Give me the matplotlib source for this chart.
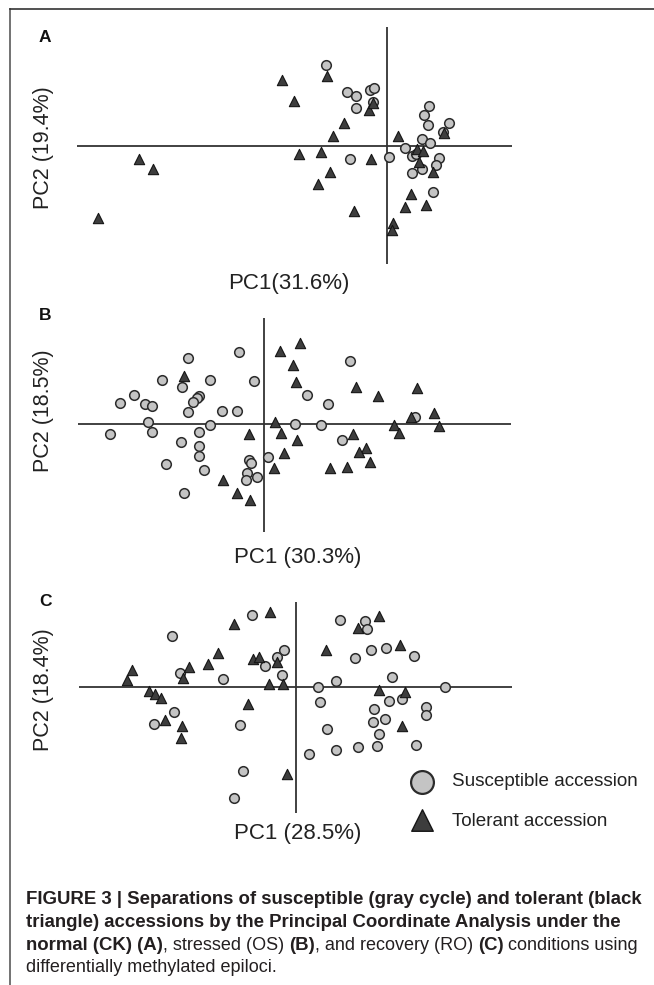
import matplotlib
matplotlib.use('Agg')
import matplotlib.pyplot as plt
from matplotlib import font_manager

plt.rcParams['font.family'] = ['Liberation Sans', 'DejaVu Sans']

W, H = 654, 985

# ---- data (PCoA scores, scaled units) ----
# A: normal (CK)
a_sus_x = [-0.61, -0.40, -0.31, -0.17, -0.13, -0.31, -0.14, 0.42, 0.37, 0.41, 0.62, 0.56,
           0.35, 0.43, 0.18, 0.25, 0.52, 0.49, 0.35, 0.25, 0.46, -0.37, 0.02, 0.29]
a_sus_y = [0.81, 0.54, 0.50, 0.56, 0.58, 0.38, 0.44, 0.40, 0.31, 0.21, 0.23, 0.14,
           0.07, 0.03, -0.02, -0.10, -0.12, -0.19, -0.23, -0.27, -0.46, -0.13, -0.11, -0.08]
a_tol_x = [-1.05, -0.60, -0.93, -0.18, -0.14, -0.43, -0.54, 0.11, -0.88, -0.66, -0.16, -0.57,
           -0.69, -2.48, -2.34, -2.89, -0.33, 0.24, 0.18, 0.39, 0.06, 0.05, 0.30, 0.36,
           0.32, 0.46, 0.57]
a_tol_y = [0.66, 0.70, 0.45, 0.36, 0.43, 0.23, 0.10, 0.10, -0.08, -0.06, -0.13, -0.26,
           -0.38, -0.13, -0.23, -0.72, -0.65, -0.48, -0.61, -0.59, -0.77, -0.84, -0.03, -0.05,
           -0.16, -0.26, 0.13]

# B: stressed (OS)
b_sus_x = [-0.25, -0.76, 0.86, -1.02, -0.54, -0.10, -0.82, -0.65, -0.67, -0.71, -1.30, -1.44,
           -1.19, -1.12, -0.76, -0.42, -0.27, 0.43, 0.64, 1.51, -1.16, -1.54, -1.12, -0.54,
           -0.65, -0.83, -0.65, -0.65, 0.31, 0.57, 0.78, 0.04, -0.15, -0.13, -0.98, -0.60,
           -0.17, -0.07, -0.18, -0.80]
b_sus_y = [0.72, 0.66, 0.63, 0.44, 0.44, 0.43, 0.37, 0.28, 0.26, 0.22, 0.29, 0.21,
           0.20, 0.18, 0.12, 0.13, 0.13, 0.29, 0.20, 0.07, 0.02, -0.10, -0.08, -0.01,
           -0.08, -0.18, -0.22, -0.32, 0.00, -0.01, -0.16, -0.33, -0.36, -0.39, -0.40, -0.46,
           -0.49, -0.53, -0.56, -0.69]
b_tol_x = [-0.80, 0.16, 0.36, 0.29, 0.32, 0.92, 1.14, 1.53, 1.70, 1.47, 1.30, 1.35,
           1.75, 0.11, -0.15, 0.17, 0.33, 0.89, 1.02, 0.95, 1.06, 0.83, 0.66, 0.20,
           0.10, -0.41, -0.27, -0.14]
b_tol_y = [0.48, 0.73, 0.81, 0.59, 0.42, 0.37, 0.28, 0.36, 0.11, 0.07, -0.01, -0.09,
           -0.02, 0.02, -0.10, -0.09, -0.16, -0.10, -0.24, -0.28, -0.38, -0.43, -0.44, -0.29,
           -0.44, -0.56, -0.69, -0.76]

# C: recovery (RO)
c_sus_x = [-0.44, -1.24, 0.44, 0.69, 0.71, 0.75, 0.90, 0.59, 1.18, -0.12, -0.19, -0.31,
           -1.16, -0.73, -0.14, 0.96, 0.40, 0.22, 1.49, 0.24, 0.93, 1.06, 1.30, 1.30,
           0.78, 0.77, 0.89, -1.22, -1.42, -0.56, 0.31, 0.83, 0.81, 0.62, 0.40, 0.13,
           1.20, -0.53, -0.62]
c_sus_y = [0.72, 0.51, 0.67, 0.66, 0.58, 0.37, 0.39, 0.29, 0.31, 0.37, 0.30, 0.21,
           0.14, 0.08, 0.12, 0.10, 0.06, 0.00, 0.00, -0.15, -0.14, -0.12, -0.20, -0.28,
           -0.22, -0.35, -0.32, -0.25, -0.37, -0.38, -0.42, -0.47, -0.59, -0.60, -0.63, -0.67,
           -0.58, -0.84, -1.11]
c_tol_x = [-0.26, -0.62, 0.83, 0.62, 1.04, 0.30, -0.78, -0.88, -1.07, -1.13, -0.43, -0.37,
           -0.19, -1.64, -1.69, -1.47, -1.41, -1.35, -0.27, -0.13, 0.83, 1.09, -0.48, -1.31,
           -1.14, -1.15, 1.06, -0.09]
c_tol_y = [0.75, 0.63, 0.71, 0.59, 0.42, 0.37, 0.34, 0.23, 0.20, 0.09, 0.28, 0.30,
           0.25, 0.17, 0.07, -0.04, -0.07, -0.11, 0.03, 0.03, -0.03, -0.05, -0.17, -0.33,
           -0.39, -0.51, -0.39, -0.87]

panel_letters = ['A', 'B', 'C']
pc1_labels = ['PC1(31.6%)', 'PC1 (30.3%)', 'PC1 (28.5%)']
pc2_labels = ['PC2 (19.4%)', 'PC2 (18.5%)', 'PC2 (18.4%)']
legend_labels = ['Susceptible accession', 'Tolerant accession']

SUS_FC, SUS_EC = '#c4c4c4', '#2b2b2b'
TOL_FC, TOL_EC = '#3d3d3d', '#151515'
LINE_C = '#333333'

# caption looks condensed in the original; use a narrow face if there is one
_names = {f.name for f in font_manager.fontManager.ttflist}
CAP_FAMILY = ['Liberation Sans Narrow'] if 'Liberation Sans Narrow' in _names else ['Liberation Sans']

fig = plt.figure(figsize=(W / 100, H / 100), dpi=100)

# overlay axes in pixel coordinates for frame, labels and caption
ov = fig.add_axes([0, 0, 1, 1])
ov.set_xlim(0, W)
ov.set_ylim(H, 0)
ov.axis('off')

ov.plot([10, 10], [9, H], color='#5a5a5a', lw=1.2)
ov.plot([10, W], [9, 9], color='#333333', lw=1.2)

# (left, top, right, bottom) of the cross, crossing point, label positions
layout = [
    dict(box=(77, 27, 512, 264), cross=(387, 145.7), let_y=37, pc2_y=148, pc1=(289, 283)),
    dict(box=(78, 318, 511, 532), cross=(264, 424), let_y=315, pc2_y=411, pc1=(298, 557)),
    dict(box=(79, 602, 512, 813), cross=(296, 686.7), let_y=601, pc2_y=690, pc1=(298, 834)),
]
sus = [(a_sus_x, a_sus_y), (b_sus_x, b_sus_y), (c_sus_x, c_sus_y)]
tol = [(a_tol_x, a_tol_y), (b_tol_x, b_tol_y), (c_tol_x, c_tol_y)]

for i, lay in enumerate(layout):
    l, t, r, b = lay['box']
    cx, cy = lay['cross']
    ax = fig.add_axes([l / W, 1 - b / H, (r - l) / W, (b - t) / H])
    ax.set_xlim((l - cx) / 100, (r - cx) / 100)
    ax.set_ylim((cy - b) / 100, (cy - t) / 100)
    ax.axhline(0, color=LINE_C, lw=1.3, zorder=1)
    ax.axvline(0, color=LINE_C, lw=1.3, zorder=1)
    ax.scatter(sus[i][0], sus[i][1], s=48, marker='o', facecolor=SUS_FC,
               edgecolor=SUS_EC, linewidth=1.1, zorder=2, clip_on=False)
    ax.scatter(tol[i][0], tol[i][1], s=55, marker='^', facecolor=TOL_FC,
               edgecolor=TOL_EC, linewidth=0.8, zorder=3, clip_on=False)
    ax.axis('off')

    ov.text(45, lay['let_y'], panel_letters[i], fontsize=12.5, fontweight='bold',
            ha='center', va='center', color='#111111')
    ov.text(43, lay['pc2_y'], pc2_labels[i], fontsize=15.5, rotation=90,
            ha='center', va='center', color='#222222')
    ov.text(lay['pc1'][0], lay['pc1'][1], pc1_labels[i], fontsize=16,
            ha='center', va='center', color='#222222')

# legend
ov.scatter([422], [782], s=270, marker='o', facecolor=SUS_FC, edgecolor=SUS_EC, linewidth=1.6)
ov.scatter([422], [820], s=240, marker='^', facecolor=TOL_FC, edgecolor=TOL_EC, linewidth=1.0)
ov.text(452, 782, legend_labels[0], fontsize=13.6, ha='left', va='center', color='#222222')
ov.text(452, 822, legend_labels[1], fontsize=13.6, ha='left', va='center', color='#222222')

# caption with mixed weights
caption = [
    [('FIGURE 3 | Separations of susceptible (gray cycle) and tolerant (black', 'bold')],
    [('triangle) accessions by the Principal Coordinate Analysis under the', 'bold')],
    [('normal (CK) (A)', 'bold'), (', stressed (OS) ', 'normal'), ('(B)', 'bold'),
     (', and recovery (RO) ', 'normal'), ('(C)', 'bold'), (' conditions using', 'normal')],
    [('differentially methylated epiloci.', 'normal')],
]
renderer = fig.canvas.get_renderer()


def text_w(s, size, wt):
    t = ov.text(0, 0, s, fontsize=size, fontweight=wt, family=CAP_FAMILY)
    w = t.get_window_extent(renderer=renderer).width
    t.remove()
    return w


def space_w(size, wt):
    return text_w('a a', size, wt) - text_w('aa', size, wt)


def advance(s, size, wt):
    core = s.strip()
    n_sp = len(s) - len(s.lstrip()) + len(s) - len(s.rstrip())
    return (text_w(core, size, wt) if core else 0) + n_sp * space_w(size, wt)


# fit widths: bold line 1 ~618 px, last (normal) line ~250 px
sizes = {'bold': 10 * 618 / text_w(caption[0][0][0], 10, 'bold'),
         'normal': 10 * 252 / text_w(caption[3][0][0], 10, 'normal')}
cap_y = [900, 922.5, 945, 967.5]
for line, y in zip(caption, cap_y):
    x = 26
    for s, wt in line:
        lead = len(s) - len(s.lstrip())
        ov.text(x + lead * space_w(sizes[wt], wt), y, s.strip(), fontsize=sizes[wt],
                fontweight=wt, family=CAP_FAMILY, ha='left', va='center', color='#231f20')
        x += advance(s, sizes[wt], wt)

fig.savefig('out.png', dpi=100)
